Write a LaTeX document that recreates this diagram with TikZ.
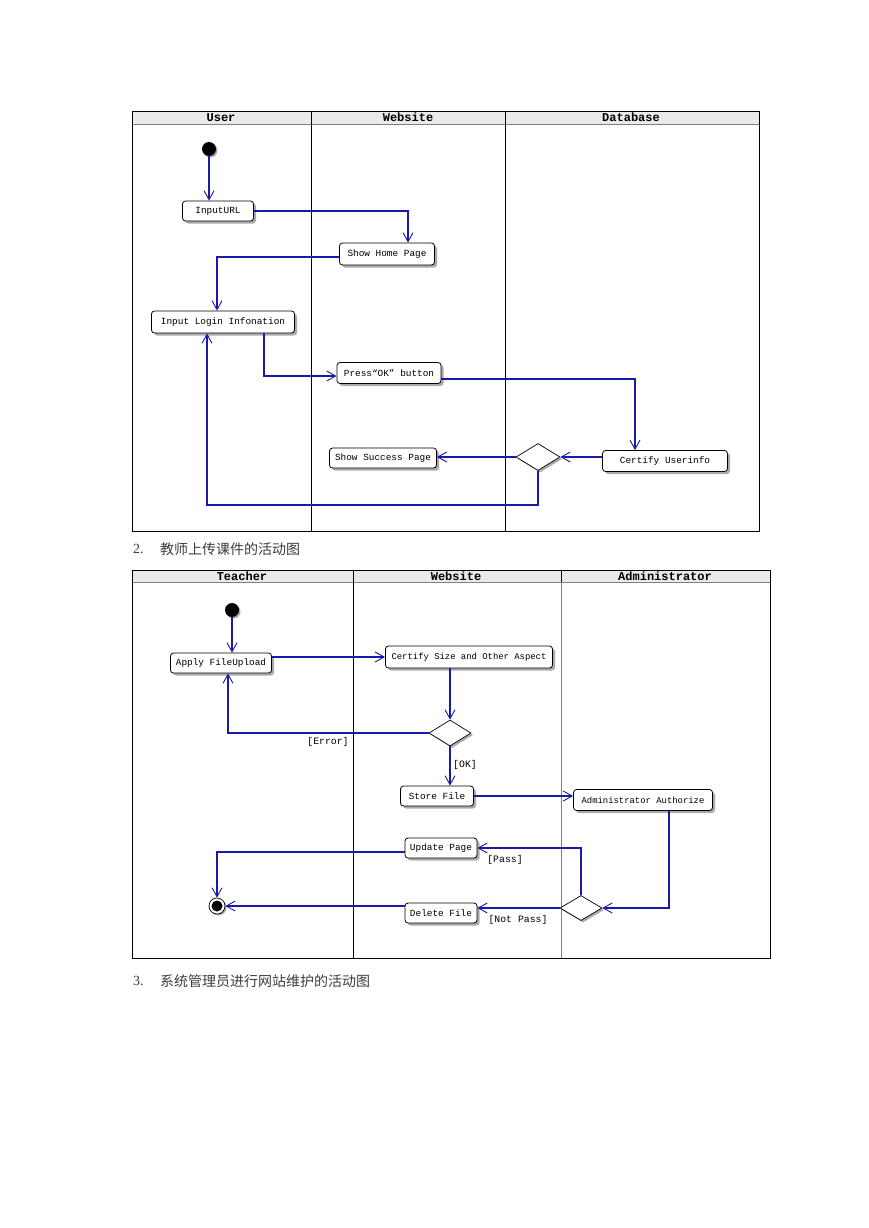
\documentclass[tikz,border=0pt]{standalone}
\usepackage{fontspec}
\setmainfont{Liberation Serif}
\setmonofont{Liberation Mono}
\newfontfamily\cjk{Noto Sans CJK SC}
\usetikzlibrary{shapes.geometric,arrows.meta}
\definecolor{flowblue}{RGB}{25,25,170}
\definecolor{hdrgray}{RGB}{234,234,234}
\definecolor{capgray}{RGB}{60,60,60}
\definecolor{shadowgray}{RGB}{170,170,170}
\begin{document}
\begin{tikzpicture}[x=1pt,y=-1pt,
  shadowed/.style={preaction={draw=none,fill=shadowgray,transform canvas={xshift=#1,yshift=-#1}}},
  act/.style={draw=black,line width=0.8pt,rounded corners=3pt,fill=white,inner sep=0pt,
    font=\fontsize{9.4}{10}\ttfamily,shadowed=2.5pt},
  smallact/.style={act,font=\fontsize{8.9}{10}\ttfamily},
  decision/.style={diamond,draw=black,line width=0.7pt,fill=white,inner sep=0pt,shadowed=2pt},
  initnode/.style={circle,fill=black,inner sep=0pt,minimum size=14pt,shadowed=1.5pt},
  endnode/.style={circle,draw=black,fill=white,line width=0.7pt,inner sep=0pt,minimum size=16pt,shadowed=1.5pt},
  flow/.style={color=flowblue,draw=flowblue,line width=1.15pt,-{Straight Barb[length=9pt,width=10pt,line width=0.9pt]}},
  lane/.style={font=\fontsize{12}{12}\ttfamily\bfseries,inner sep=0pt},
  guard/.style={font=\fontsize{9.8}{10}\ttfamily,inner sep=1pt},
  caption/.style={font=\fontsize{14}{16}\selectfont,text=capgray,anchor=west,inner sep=0pt}
]
\useasboundingbox (0,0) rectangle (869,1228);

% ---------- Diagram 1 frame ----------
\fill[hdrgray] (132,111) rectangle (759,124);
\draw[gray,line width=0.7pt] (132,124) -- (759,124);
\draw[black,line width=0.9pt] (132,111) rectangle (759,531);
\draw[black,line width=0.9pt] (311,111) -- (311,531);
\draw[black,line width=0.9pt] (505,111) -- (505,531);
\node[lane] (hUser) at (221,117.5) {User};
\node[lane] (hWeb1) at (408,117.5) {Website};
\node[lane] (hDb) at (631,117.5) {Database};

% ---------- Diagram 1 nodes ----------
\node[initnode] (start1) at (209,149) {};
\node[act,minimum width=71pt,minimum height=20pt] (inurl) at (218,211) {InputURL};
\node[act,minimum width=95pt,minimum height=22pt] (home) at (387,254) {Show Home Page};
\node[act,minimum width=143pt,minimum height=22pt] (login) at (223,322) {Input Login Infonation};
\node[act,minimum width=104pt,minimum height=21pt] (press) at (389,373) {Press“OK” button};
\node[act,minimum width=107pt,minimum height=20pt] (succ) at (383,458) {Show Success Page};
\node[act,minimum width=125pt,minimum height=21pt] (cert) at (665,461) {Certify Userinfo};
\node[decision,minimum width=44pt,minimum height=27pt] (dec1) at (538,457) {};
\coordinate (loopA) at (207,505);

% ---------- Diagram 1 edges ----------
\begin{scope}[color=flowblue]
\draw[flow] (start1) -- (start1 |- inurl.north);
\draw[flow] (inurl.east) -| ([xshift=21pt]home.north);
\draw[flow] ([yshift=-3pt]home.west) -| ([xshift=-6pt]login.north);
\draw[flow] ([xshift=41pt]login.south) |- ([yshift=-3pt]press.west);
\draw[flow] ([yshift=-6pt]press.east) -| ([xshift=-30pt]cert.north);
\draw[flow] (cert.west |- dec1.east) -- (dec1.east);
\draw[flow] (dec1.west) -- (dec1.west -| succ.east);
\draw[flow] (dec1.south) |- (loopA) -- ([xshift=-16pt]login.south);
\end{scope}

% ---------- Caption 2 ----------
\node[caption] (cap2num) at (133,549) {2.};
\node[caption] (cap2) at (160,549) {\cjk 教师上传课件的活动图};

% ---------- Diagram 2 frame ----------
\fill[hdrgray] (132,570) rectangle (770,582);
\draw[gray,line width=0.7pt] (132,582) -- (770,582);
\draw[black,line width=0.9pt] (132,570) rectangle (770,958);
\draw[black,line width=0.9pt] (353,570) -- (353,958);
\draw[black,line width=0.9pt] (561,570) -- (561,582);
\draw[gray,line width=0.9pt] (561,582) -- (561,958);
\node[lane] (hTeach) at (242,576) {Teacher};
\node[lane] (hWeb2) at (456,576) {Website};
\node[lane] (hAdm) at (665,576) {Administrator};

% ---------- Diagram 2 nodes ----------
\node[initnode] (start2) at (232,610) {};
\node[act,minimum width=101pt,minimum height=20pt] (apply) at (221,663) {Apply FileUpload};
\node[smallact,minimum width=167pt,minimum height=22pt] (certsz) at (469,657) {Certify Size and Other Aspect};
\node[decision,minimum width=42pt,minimum height=26pt] (dec2) at (450,733) {};
\node[act,minimum width=73pt,minimum height=20pt] (store) at (437,796) {Store File};
\node[smallact,minimum width=139pt,minimum height=21pt] (admin) at (643,800) {Administrator Authorize};
\node[decision,minimum width=42pt,minimum height=25pt] (dec3) at (581,908) {};
\node[act,minimum width=72pt,minimum height=20pt] (update) at (441,848) {Update Page};
\node[act,minimum width=72pt,minimum height=20pt] (delete) at (441,913) {Delete File};
\node[endnode] (final) at (217,906) {};
\fill[black] (final.center) circle (5.5pt);

% ---------- Diagram 2 edges ----------
\begin{scope}[color=flowblue]
\draw[flow] (start2) -- (start2 |- apply.north);
\draw[flow] (apply.east |- certsz.west) -- (certsz.west);
\draw[flow] (certsz.south -| dec2.north) -- (dec2.north);
\draw[flow] (dec2.west) -| ([xshift=7pt]apply.south);
\draw[flow] (dec2.south) -- (dec2.south |- store.north);
\draw[flow] (store.east) -- (store.east -| admin.west);
\draw[flow] ([xshift=26pt]admin.south) |- (dec3.east);
\draw[flow] (dec3.north) |- (update.east);
\draw[flow] ([yshift=-4pt]update.west) -| (final.north);
\draw[flow] (dec3.west) -- (dec3.west -| delete.east);
\draw[flow] (delete.west |- final.east) -- (final.east);
\end{scope}
\node[guard] (gErr) at (328,742) {[Error]};
\node[guard] (gOk) at (465,765) {[OK]};
\node[guard] (gPass) at (505,860) {[Pass]};
\node[guard] (gNot) at (518,920) {[Not Pass]};

% ---------- Caption 3 ----------
\node[caption] (cap3num) at (133,981) {3.};
\node[caption] (cap3) at (160,981) {\cjk 系统管理员进行网站维护的活动图};
\end{tikzpicture}
\end{document}
